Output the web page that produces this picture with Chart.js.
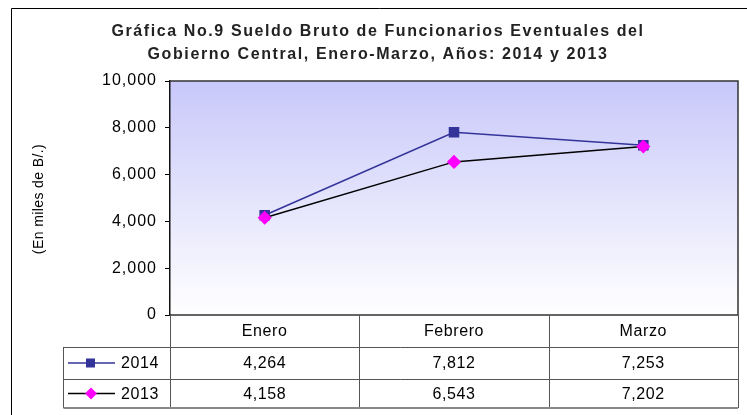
<!DOCTYPE html>
<html>
<head>
<meta charset="utf-8">
<script src="https://cdn.jsdelivr.net/npm/chart.js@4.4.1/dist/chart.umd.min.js"></script>
<style>
  html, body { margin: 0; padding: 0; background: #fff; }
  #wrap { width: 747px; height: 415px; }
</style>
</head>
<body>
<div id="wrap"><canvas id="chart" width="747" height="415"></canvas></div>
<script>
// datos
const months = ['Enero', 'Febrero', 'Marzo'];
const sueldo2014 = [4264, 7812, 7253];
const sueldo2013 = [4158, 6543, 7202];
const seriesNames = ['2014', '2013'];
const titleLines = ['Gráfica No.9 Sueldo Bruto de Funcionarios Eventuales del',
                    'Gobierno Central, Enero-Marzo, Años: 2014 y 2013'];
const yTitle = '(En miles de B/.)';

const FONT = "'Liberation Sans', Arial, sans-serif";
const fmt = v => v.toLocaleString('en-US');

// fondo degradado del area de trazado
const plotBg = {
    id: 'plotBg',
    beforeDraw(chart) {
        const { ctx, chartArea: a } = chart;
        const g = ctx.createLinearGradient(0, a.top, 0, a.bottom);
        g.addColorStop(0, 'rgb(200,200,250)');
        g.addColorStop(1, 'rgb(255,255,255)');
        ctx.save();
        ctx.fillStyle = g;
        ctx.fillRect(a.left, a.top, a.right - a.left, a.bottom - a.top);
        ctx.restore();
        chart.ctx.letterSpacing = '1px';
    }
};

// titulo, marco, tabla de datos
const extras = {
    id: 'extras',
    afterDraw(chart) {
        const { ctx, chartArea: a } = chart;
        const x = chart.scales.x;
        ctx.save();

        // marco exterior
        ctx.strokeStyle = '#000';
        ctx.lineWidth = 1;
        ctx.beginPath();
        ctx.moveTo(11.5, 415);
        ctx.lineTo(11.5, 8.5);
        ctx.lineTo(747, 8.5);
        ctx.stroke();

        // titulo
        ctx.letterSpacing = '1.6px';
        ctx.fillStyle = '#222';
        ctx.font = 'bold 16px ' + FONT;
        ctx.textAlign = 'center';
        ctx.textBaseline = 'middle';
        ctx.fillText(titleLines[0], 378, 32);
        ctx.fillText(titleLines[1], 378, 55);

        // titulo eje y
        ctx.save();
        ctx.letterSpacing = '0.4px';
        ctx.font = '14px ' + FONT;
        ctx.fillStyle = '#000';
        ctx.translate(39, 199);
        ctx.rotate(-Math.PI / 2);
        ctx.fillText(yTitle, 0, 0);
        ctx.restore();

        // borde del area de trazado
        ctx.strokeStyle = '#333';
        ctx.lineWidth = 1.5;
        ctx.beginPath();
        ctx.moveTo(a.left, a.top);
        ctx.lineTo(a.right, a.top);
        ctx.lineTo(a.right, a.bottom);
        ctx.lineTo(a.left, a.bottom);
        ctx.stroke();

        // tabla
        const rowTop = a.bottom, r1 = 347, r2 = 379, rowBot = 408;
        const legLeft = 63.5;
        const w = (a.right - a.left) / months.length;
        ctx.lineWidth = 1;
        ctx.strokeStyle = '#555';
        ctx.beginPath();
        for (let i = 0; i <= months.length; i++) {
            const bx = Math.round(a.left + i * w) + 0.5;
            ctx.moveTo(bx, rowTop);
            ctx.lineTo(bx, rowBot);
        }
        ctx.moveTo(legLeft, r1);
        ctx.lineTo(legLeft, rowBot);
        [r1, r2].forEach(y => {
            ctx.moveTo(legLeft, y + 0.5);
            ctx.lineTo(a.right, y + 0.5);
        });
        ctx.stroke();
        ctx.strokeStyle = '#888';
        ctx.lineWidth = 2;
        ctx.beginPath();
        ctx.moveTo(legLeft, rowBot);
        ctx.lineTo(a.right, rowBot);
        ctx.stroke();

        ctx.letterSpacing = '0.6px';
        ctx.fillStyle = '#000';
        ctx.font = '16px ' + FONT;
        ctx.textAlign = 'center';
        const rows = [sueldo2014, sueldo2013];
        const rowY = [(r1 + r2) / 2 + 1, (r2 + rowBot) / 2 + 1];
        months.forEach((m, i) => {
            const cx = x.getPixelForValue(i);
            ctx.fillText(m, cx, (rowTop + r1) / 2 + 1);
            rows.forEach((vals, j) => ctx.fillText(fmt(vals[i]), cx, rowY[j]));
        });

        // leyenda en la tabla
        chart.data.datasets.forEach((ds, j) => {
            const y = rowY[j] - 1;
            ctx.strokeStyle = ds.borderColor;
            ctx.lineWidth = 1.5;
            ctx.beginPath();
            ctx.moveTo(68, y);
            ctx.lineTo(115, y);
            ctx.stroke();
            ctx.fillStyle = ds.pointBackgroundColor;
            if (ds.pointStyle === 'rect') {
                ctx.fillRect(86, y - 4.5, 9, 9);
            } else {
                ctx.beginPath();
                ctx.moveTo(91, y - 6);
                ctx.lineTo(97, y);
                ctx.lineTo(91, y + 6);
                ctx.lineTo(85, y);
                ctx.closePath();
                ctx.fill();
            }
            ctx.fillStyle = '#000';
            ctx.textAlign = 'left';
            ctx.fillText(ds.label, 121, rowY[j]);
        });
        ctx.restore();
    }
};

new Chart(document.getElementById('chart'), {
    type: 'line',
    data: {
        labels: months,
        datasets: [
            {
                label: seriesNames[0],
                data: sueldo2014,
                borderColor: '#333399',
                backgroundColor: '#333399',
                pointBackgroundColor: '#333399',
                pointBorderColor: '#333399',
                pointStyle: 'rect',
                pointRadius: 6.4,
                borderWidth: 1.5,
                order: 2
            },
            {
                label: seriesNames[1],
                data: sueldo2013,
                borderColor: '#000000',
                backgroundColor: '#FF00FF',
                pointBackgroundColor: '#FF00FF',
                pointBorderColor: '#FF00FF',
                pointStyle: 'rectRot',
                pointRadius: 6,
                borderWidth: 1.5,
                order: 1
            }
        ]
    },
    options: {
        responsive: false,
        animation: false,
        layout: { padding: { top: 81, left: 0, right: 9, bottom: 100 } },
        plugins: {
            legend: { display: false },
            title: { display: false },
            tooltip: { enabled: false }
        },
        scales: {
            x: { type: 'category', offset: true, display: false },
            y: {
                min: 0,
                max: 10000,
                afterFit(scale) { scale.width = 170; },
                ticks: {
                    stepSize: 2000,
                    padding: 8,
                    color: '#000',
                    font: { family: FONT, size: 16 },
                    callback: v => fmt(v)
                },
                grid: { drawOnChartArea: false, drawTicks: true, tickLength: 5, color: '#000' },
                border: { display: true, color: '#111', width: 1.5 }
            }
        }
    },
    plugins: [plotBg, extras]
});
</script>
</body>
</html>
